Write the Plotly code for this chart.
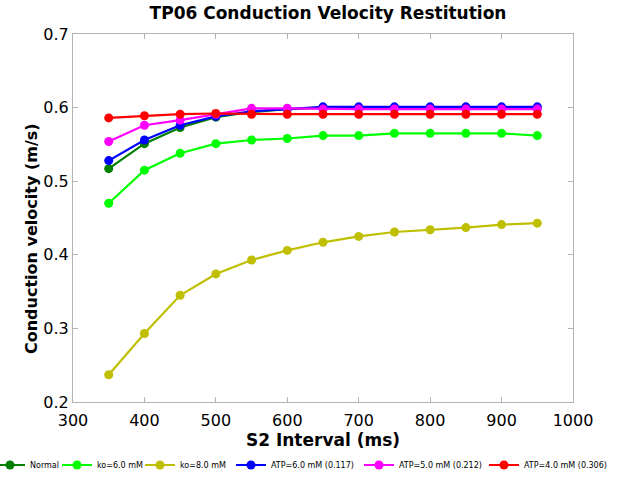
import plotly.graph_objects as go

s2_interval = [350, 400, 450, 500, 550, 600, 650, 700, 750, 800, 850, 900, 950]

cv_normal = [0.517, 0.551, 0.573, 0.587, 0.594, 0.598, 0.600, 0.600, 0.600, 0.600, 0.600, 0.600, 0.600]
cv_ko6 = [0.470, 0.515, 0.538, 0.551, 0.556, 0.558, 0.562, 0.562, 0.565, 0.565, 0.565, 0.565, 0.562]
cv_ko8 = [0.237, 0.293, 0.345, 0.374, 0.393, 0.406, 0.417, 0.425, 0.431, 0.434, 0.437, 0.441, 0.443]
cv_atp6 = [0.528, 0.556, 0.576, 0.588, 0.595, 0.598, 0.601, 0.601, 0.601, 0.601, 0.601, 0.601, 0.601]
cv_atp5 = [0.554, 0.576, 0.583, 0.591, 0.599, 0.599, 0.598, 0.598, 0.598, 0.598, 0.598, 0.598, 0.598]
cv_atp4 = [0.586, 0.589, 0.591, 0.592, 0.591, 0.591, 0.591, 0.591, 0.591, 0.591, 0.591, 0.591, 0.591]

names = ["Normal", "ko=6.0 mM", "ko=8.0 mM",
         "ATP=6.0 mM (0.117)", "ATP=5.0 mM (0.212)", "ATP=4.0 mM (0.306)"]
values = [cv_normal, cv_ko6, cv_ko8, cv_atp6, cv_atp5, cv_atp4]
colors = ["#007f00", "#00ff00", "#bfbf00", "#0000ff", "#ff00ff", "#ff0000"]

# where each legend symbol starts along the bottom strip (pixels)
legend_symbol_px = [-4, 63, 146, 237, 365, 490]

# plot area in pixels
L, R, T, B = 73, 573, 34, 402
W, H = R - L, B - T
FW, FH = 618, 482

fig = go.Figure()
for i, (name, vals, color) in enumerate(zip(names, values, colors)):
    fig.add_trace(go.Scatter(
        x=s2_interval, y=vals, name=name, mode="lines+markers",
        line=dict(color=color, width=2.2),
        marker=dict(color=color, size=9),
        showlegend=True,
        legend="legend" if i == 0 else f"legend{i + 1}",
    ))

axis_style = dict(
    showline=True, linecolor="#b4b4b4", linewidth=1, mirror="ticks",
    ticks="inside", ticklen=5, tickcolor="#b4b4b4",
    showgrid=False, zeroline=False, automargin=False,
    tickfont=dict(size=16, color="black"),
)

# one single-entry legend per series so each can sit where the reference has it
legends = {}
for i, px in enumerate(legend_symbol_px):
    key = "legend" if i == 0 else f"legend{i + 1}"
    legends[key] = dict(
        orientation="h", xref="paper", yref="paper",
        x=(px - 6 - L) / W, xanchor="left",
        y=(B - 465) / H, yanchor="middle",
        font=dict(family="DejaVu Sans", size=8, color="black"),
        itemwidth=30, bgcolor="rgba(0,0,0,0)",
    )

fig.update_layout(
    width=FW, height=FH,
    showlegend=True,
    paper_bgcolor="white", plot_bgcolor="white",
    font=dict(family="DejaVu Sans, sans-serif", color="black"),
    title=dict(text="<b>TP06 Conduction Velocity Restitution</b>",
               x=328 / FW, xanchor="center", y=1 - 13 / FH, yanchor="middle",
               font=dict(size=17)),
    margin=dict(l=L, r=FW - R, t=T, b=FH - B, autoexpand=False),
    xaxis=dict(range=[300, 1000], dtick=100, ticklabelstandoff=4,
               title=dict(text="<b>S2 Interval (ms)</b>", font=dict(size=17), standoff=0),
               **axis_style),
    yaxis=dict(range=[0.2, 0.7], dtick=0.1, tickformat=".1f", **axis_style),
    annotations=[dict(
        text="<b>Conduction velocity (m/s)</b>", textangle=-90,
        xref="paper", yref="paper", x=(31 - L) / W, y=(B - 239) / H,
        xanchor="center", yanchor="middle", showarrow=False,
        font=dict(size=16, color="black"),
    )],
    **legends,
)

# drop the page's default body margin so the figure sits at the top-left corner
fig.write_html("out.html", config={"displayModeBar": False},
               post_script="document.body.style.margin = '0';")
